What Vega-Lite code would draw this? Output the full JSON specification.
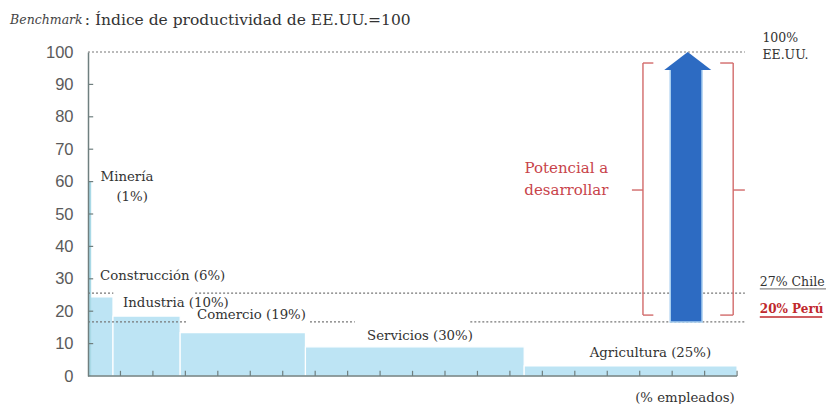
{
  "$schema": "https://vega.github.io/schema/vega-lite/v6.json",
  "autosize": "none",
  "padding": {"left": 88, "top": 52, "right": 0, "bottom": 28},
  "width": 738,
  "height": 324,
  "background": "white",
  "config": {"view": {"stroke": null}},
  "datasets": {
    "bars": [
      {"sector": "Minería", "x0": 0, "x1": 0.3, "h": 60},
      {"sector": "Construcción", "x0": 0.3, "x1": 3.85, "h": 24.4},
      {"sector": "Industria", "x0": 3.85, "x1": 14.2, "h": 18.5},
      {"sector": "Comercio", "x0": 14.2, "x1": 33.5, "h": 13.4},
      {"sector": "Servicios", "x0": 33.5, "x1": 67.2, "h": 9.0},
      {"sector": "Agricultura", "x0": 67.2, "x1": 100, "h": 3.1}
    ],
    "xticks": [
      {"v": 5, "lo": 0, "hi": 1.6}, {"v": 10, "lo": 0, "hi": 1.6}, {"v": 15, "lo": 0, "hi": 1.6}, {"v": 20, "lo": 0, "hi": 1.6},
      {"v": 25, "lo": 0, "hi": 1.6}, {"v": 30, "lo": 0, "hi": 1.6}, {"v": 35, "lo": 0, "hi": 1.6}, {"v": 40, "lo": 0, "hi": 1.6},
      {"v": 45, "lo": 0, "hi": 1.6}, {"v": 50, "lo": 0, "hi": 1.6}, {"v": 55, "lo": 0, "hi": 1.6}, {"v": 60, "lo": 0, "hi": 1.6},
      {"v": 65, "lo": 0, "hi": 1.6}, {"v": 70, "lo": 0, "hi": 1.6}, {"v": 75, "lo": 0, "hi": 1.6}, {"v": 80, "lo": 0, "hi": 1.6},
      {"v": 85, "lo": 0, "hi": 1.6}, {"v": 90, "lo": 0, "hi": 1.6}, {"v": 95, "lo": 0, "hi": 1.6}, {"v": 100, "lo": 0, "hi": 1.6}
    ],
    "yticks": [
      {"v": 10, "lo": 0, "hi": 0.8}, {"v": 20, "lo": 0, "hi": 0.8}, {"v": 30, "lo": 0, "hi": 0.8},
      {"v": 40, "lo": 0, "hi": 0.8}, {"v": 50, "lo": 0, "hi": 0.8}, {"v": 60, "lo": 0, "hi": 0.8},
      {"v": 70, "lo": 0, "hi": 0.8}, {"v": 80, "lo": 0, "hi": 0.8}, {"v": 90, "lo": 0, "hi": 0.8}
    ],
    "refs": [
      {"line": "EE.UU.", "x0": 0, "x1": 101.2, "y": 100},
      {"line": "Chile", "x0": 0, "x1": 3.9, "y": 25.6},
      {"line": "Chile", "x0": 16.5, "x1": 101.2, "y": 25.6},
      {"line": "Perú", "x0": 0, "x1": 15.3, "y": 16.7},
      {"line": "Perú", "x0": 34.2, "x1": 41.1, "y": 16.7},
      {"line": "Perú", "x0": 58.9, "x1": 101.2, "y": 16.7}
    ],
    "arrow": [
      {"x0": 89.7, "x1": 94.6, "y0": 16.7, "y1": 95, "xc": 92.4, "yc": 97.2}
    ],
    "brackets": [
      {"x0": 85.5, "x1": 85.5, "y0": 18.8, "y1": 96.6},
      {"x0": 85.5, "x1": 87.1, "y0": 96.6, "y1": 96.6},
      {"x0": 85.5, "x1": 87.1, "y0": 18.8, "y1": 18.8},
      {"x0": 83.8, "x1": 85.5, "y0": 57.4, "y1": 57.4},
      {"x0": 99.4, "x1": 99.4, "y0": 18.8, "y1": 96.6},
      {"x0": 97.4, "x1": 99.4, "y0": 96.6, "y1": 96.6},
      {"x0": 97.4, "x1": 99.4, "y0": 18.8, "y1": 18.8},
      {"x0": 99.4, "x1": 101.2, "y0": 57.4, "y1": 57.4}
    ],
    "axisline": [
      {"x0": 0, "x1": 100, "y": 0}
    ],
    "underlines": [
      {"who": "Chile", "x0": 103.5, "x1": 113.7, "y": 26.9},
      {"who": "Perú", "x0": 103.5, "x1": 113.1, "y": 18.2}
    ],
    "labels": [
      {"g": "sector", "text": "Minería", "x": 6.0, "y": 61.4, "a": "c"},
      {"g": "sector", "text": "(1%)", "x": 6.8, "y": 55.2, "a": "c"},
      {"g": "sector", "text": "Construcción (6%)", "x": 1.85, "y": 30.9, "a": "l"},
      {"g": "sector", "text": "Industria (10%)", "x": 5.4, "y": 22.5, "a": "l"},
      {"g": "sector", "text": "Comercio (19%)", "x": 16.8, "y": 18.8, "a": "l"},
      {"g": "sector", "text": "Servicios (30%)", "x": 43.0, "y": 12.3, "a": "l"},
      {"g": "sector", "text": "Agricultura (25%)", "x": 77.3, "y": 7.1, "a": "l"},
      {"g": "sector", "text": "(% empleados)", "x": 84.3, "y": -6.8, "a": "l"},
      {"g": "right", "text": "100%", "x": 103.9, "y": 104.3, "a": "l"},
      {"g": "right", "text": "EE.UU.", "x": 103.9, "y": 99.1, "a": "l"},
      {"g": "right", "text": "27% Chile", "x": 103.5, "y": 28.9, "a": "l"},
      {"g": "peru", "text": "20% Perú", "x": 103.5, "y": 20.6, "a": "l"},
      {"g": "pot", "text": "Potencial a", "x": 73.7, "y": 64.2, "a": "c"},
      {"g": "pot", "text": "desarrollar", "x": 73.7, "y": 57.4, "a": "c"},
      {"g": "titleit", "text": "Benchmark", "x": -12.0, "y": 109.9, "a": "l"},
      {"g": "title", "text": ": Índice de productividad de EE.UU.=100", "x": -0.5, "y": 109.9, "a": "l"}
    ]
  },
  "layer": [
    {
      "data": {"name": "bars"},
      "transform": [{"filter": "datum.sector !== 'Minería'"}],
      "mark": {"type": "rect", "color": "#BDE4F4", "stroke": "white", "strokeWidth": 1.2},
      "encoding": {
        "x": {"field": "x0", "type": "quantitative", "scale": {"domain": [0, 113.7], "nice": false, "zero": false},
          "axis": null},
        "x2": {"field": "x1"},
        "y": {"field": "h", "type": "quantitative", "scale": {"domain": [0, 100], "nice": false},
          "axis": {"values": [0,10,20,30,40,50,60,70,80,90,100], "tickCount": 11, "grid": false, "ticks": false, "domainColor": "#6f7f7f", "domainWidth": 1.5, "labelFont": "Liberation Sans", "labelFontSize": 16.5, "labelColor": "#5a5a5a", "labelPadding": 15, "labelOverlap": false, "title": null, "zindex": 1}},
        "y2": {"datum": 0}
      }
    },
    {
      "data": {"name": "bars"},
      "transform": [{"filter": "datum.sector === 'Minería'"}],
      "mark": {"type": "rule", "color": "#A9D9E6", "strokeWidth": 2.5},
      "encoding": {
        "x": {"field": "x1", "type": "quantitative"},
        "y": {"field": "h", "type": "quantitative"},
        "y2": {"datum": 0}
      }
    },
    {
      "data": {"name": "xticks"},
      "mark": {"type": "rule", "color": "#6f7f7f", "strokeWidth": 1.2},
      "encoding": {
        "x": {"field": "v", "type": "quantitative"},
        "y": {"field": "lo", "type": "quantitative"},
        "y2": {"field": "hi"}
      }
    },
    {
      "data": {"name": "yticks"},
      "mark": {"type": "rule", "color": "#6f7f7f", "strokeWidth": 1.2},
      "encoding": {
        "x": {"field": "lo", "type": "quantitative"},
        "x2": {"field": "hi"},
        "y": {"field": "v", "type": "quantitative"}
      }
    },
    {
      "data": {"name": "axisline"},
      "mark": {"type": "rule", "color": "#6f7f7f", "strokeWidth": 1.5},
      "encoding": {
        "x": {"field": "x0", "type": "quantitative"},
        "x2": {"field": "x1"},
        "y": {"field": "y", "type": "quantitative"}
      }
    },
    {
      "data": {"name": "refs"},
      "mark": {"type": "rule", "color": "#777777", "strokeWidth": 1.2, "strokeDash": [2, 2]},
      "encoding": {
        "x": {"field": "x0", "type": "quantitative"},
        "x2": {"field": "x1"},
        "y": {"field": "y", "type": "quantitative"}
      }
    },
    {
      "data": {"name": "arrow"},
      "mark": {"type": "rect", "color": "#2D6BC2", "stroke": "#A9CFF0", "strokeWidth": 1.5},
      "encoding": {
        "x": {"field": "x0", "type": "quantitative"},
        "x2": {"field": "x1"},
        "y": {"field": "y0", "type": "quantitative"},
        "y2": {"field": "y1"}
      }
    },
    {
      "data": {"name": "arrow"},
      "mark": {"type": "point", "shape": "M-1,0.383L0,-0.383L1,0.383Z", "size": 2209, "filled": true, "color": "#2D6BC2", "opacity": 1},
      "encoding": {
        "x": {"field": "xc", "type": "quantitative"},
        "y": {"field": "yc", "type": "quantitative"}
      }
    },
    {
      "data": {"name": "brackets"},
      "mark": {"type": "rule", "color": "#D26A6A", "strokeWidth": 1.4},
      "encoding": {
        "x": {"field": "x0", "type": "quantitative"},
        "x2": {"field": "x1"},
        "y": {"field": "y0", "type": "quantitative"},
        "y2": {"field": "y1"}
      }
    },
    {
      "data": {"name": "underlines"},
      "transform": [{"filter": "datum.who === 'Chile'"}],
      "mark": {"type": "rule", "color": "#888888", "strokeWidth": 1.2},
      "encoding": {
        "x": {"field": "x0", "type": "quantitative"},
        "x2": {"field": "x1"},
        "y": {"field": "y", "type": "quantitative"}
      }
    },
    {
      "data": {"name": "underlines"},
      "transform": [{"filter": "datum.who === 'Perú'"}],
      "mark": {"type": "rule", "color": "#C0282D", "strokeWidth": 1.4},
      "encoding": {
        "x": {"field": "x0", "type": "quantitative"},
        "x2": {"field": "x1"},
        "y": {"field": "y", "type": "quantitative"}
      }
    },
    {
      "data": {"name": "labels"},
      "transform": [{"filter": "datum.g === 'sector' && datum.a === 'l'"}],
      "mark": {"type": "text", "align": "left", "baseline": "middle", "font": "DejaVu Serif", "fontSize": 13.3, "color": "#333333"},
      "encoding": {
        "x": {"field": "x", "type": "quantitative"},
        "y": {"field": "y", "type": "quantitative"},
        "text": {"field": "text"}
      }
    },
    {
      "data": {"name": "labels"},
      "transform": [{"filter": "datum.g === 'sector' && datum.a === 'c'"}],
      "mark": {"type": "text", "align": "center", "baseline": "middle", "font": "DejaVu Serif", "fontSize": 13.3, "color": "#333333"},
      "encoding": {
        "x": {"field": "x", "type": "quantitative"},
        "y": {"field": "y", "type": "quantitative"},
        "text": {"field": "text"}
      }
    },
    {
      "data": {"name": "labels"},
      "transform": [{"filter": "datum.g === 'right'"}],
      "mark": {"type": "text", "align": "left", "baseline": "middle", "font": "DejaVu Serif", "fontSize": 12.5, "color": "#333333"},
      "encoding": {
        "x": {"field": "x", "type": "quantitative"},
        "y": {"field": "y", "type": "quantitative"},
        "text": {"field": "text"}
      }
    },
    {
      "data": {"name": "labels"},
      "transform": [{"filter": "datum.g === 'peru'"}],
      "mark": {"type": "text", "align": "left", "baseline": "middle", "font": "DejaVu Serif", "fontSize": 12, "fontWeight": "bold", "color": "#C0282D"},
      "encoding": {
        "x": {"field": "x", "type": "quantitative"},
        "y": {"field": "y", "type": "quantitative"},
        "text": {"field": "text"}
      }
    },
    {
      "data": {"name": "labels"},
      "transform": [{"filter": "datum.g === 'pot'"}],
      "mark": {"type": "text", "align": "center", "baseline": "middle", "font": "DejaVu Serif", "fontSize": 15, "color": "#C8434A"},
      "encoding": {
        "x": {"field": "x", "type": "quantitative"},
        "y": {"field": "y", "type": "quantitative"},
        "text": {"field": "text"}
      }
    },
    {
      "data": {"name": "labels"},
      "transform": [{"filter": "datum.g === 'titleit'"}],
      "mark": {"type": "text", "align": "left", "baseline": "middle", "font": "DejaVu Serif", "fontSize": 12.5, "fontStyle": "italic", "color": "#444444"},
      "encoding": {
        "x": {"field": "x", "type": "quantitative"},
        "y": {"field": "y", "type": "quantitative"},
        "text": {"field": "text"}
      }
    },
    {
      "data": {"name": "labels"},
      "transform": [{"filter": "datum.g === 'title'"}],
      "mark": {"type": "text", "align": "left", "baseline": "middle", "font": "DejaVu Serif", "fontSize": 15.5, "color": "#333333"},
      "encoding": {
        "x": {"field": "x", "type": "quantitative"},
        "y": {"field": "y", "type": "quantitative"},
        "text": {"field": "text"}
      }
    }
  ]
}
